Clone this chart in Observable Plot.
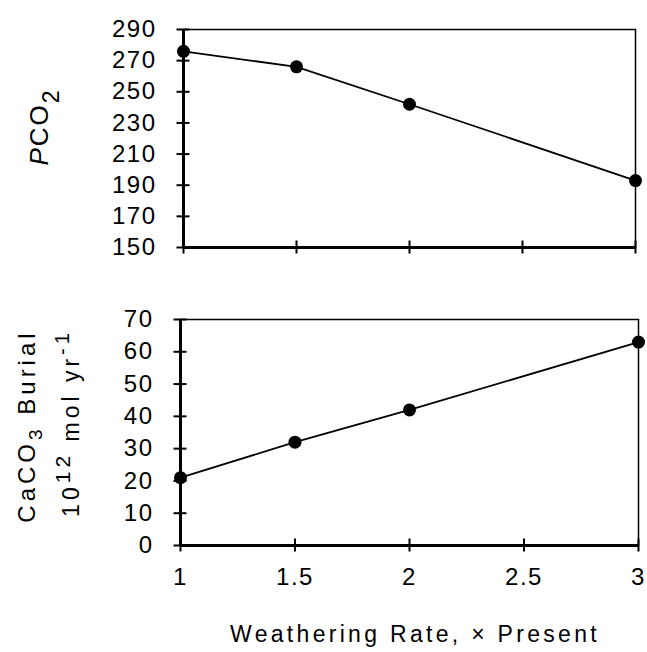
<!DOCTYPE html>
<html><head><meta charset="utf-8">
<script src="https://cdn.jsdelivr.net/npm/d3@7"></script>
<script src="https://cdn.jsdelivr.net/npm/@observablehq/plot@0.6"></script>
<style>
body{margin:0;background:#fff;}
#chart{width:647px;height:652px;}
#chart svg{display:block;}
#chart svg g[aria-label$="tick label"] text{letter-spacing:1.5px;}
</style></head><body><div id="chart"></div>
<script>
const weathering = [1, 1.5, 2, 3];
const pco2 = [276, 266, 242, 193];
const burial = [21, 32, 42, 63];
const xTicks = [1, 1.5, 2, 2.5, 3];
const pco2Ticks = [150, 170, 190, 210, 230, 250, 270, 290];
const burialTicks = [0, 10, 20, 30, 40, 50, 60, 70];
const xLabel = "Weathering Rate, \u00d7 Present";

const font = "'Liberation Sans', Arial, Helvetica, sans-serif";
const topData = weathering.map((w, i) => ({w, v: pco2[i]}));
const botData = weathering.map((w, i) => ({w, v: burial[i]}));

function panel(data, yTicks, yDomain, opts, showX) {
  return Plot.plot({
    width: 647, height: opts.height,
    marginTop: opts.mt, marginBottom: opts.mb, marginLeft: opts.ml, marginRight: opts.mr,
    style: {fontFamily: font, fontSize: "24px", color: "black", background: "white", overflow: "visible"},
    x: {domain: [1, 3]},
    y: {domain: yDomain},
    marks: [
      Plot.frame({stroke: "black", strokeWidth: 1.5}),
      Plot.ruleX([1], {stroke: "black", strokeWidth: 3}),
      Plot.ruleY([yDomain[0]], {stroke: "black", strokeWidth: 3}),
      Plot.axisY(yTicks, {tickSize: 13, dx: 6.5, fill: "none", label: null, strokeWidth: 2}),
      Plot.axisY(yTicks, {tickSize: 0, tickPadding: 27, label: null, fontSize: 24, tickFormat: d => String(d)}),
      Plot.axisX(xTicks, {tickSize: 13, dy: -6.5, fill: "none", label: null, strokeWidth: 2}),
      showX ? Plot.axisX(xTicks, {tickSize: 0, tickPadding: 22, label: null, fontSize: 24, tickFormat: d => String(d)}) : null,
      Plot.line(data, {x: "w", y: "v", stroke: "black", strokeWidth: 1.8}),
      Plot.dot(data, {x: "w", y: "v", r: 6.5, fill: "black"})
    ]
  });
}

const topSvg = panel(topData, pco2Ticks, [150, 290], {height: 270, mt: 29, mb: 23, ml: 183, mr: 12}, false);
const botSvg = panel(botData, burialTicks, [0, 70], {height: 382, mt: 49, mb: 107, ml: 180, mr: 9}, true);

// Y label, top panel
const t1 = d3.select(topSvg).append("text")
  .attr("transform", "translate(48,127) rotate(-90)")
  .attr("text-anchor", "middle").attr("fill", "black")
  .style("font-family", font).style("font-size", "26px").style("letter-spacing", "2px");
t1.append("tspan").attr("font-style", "italic").text("P");
t1.append("tspan").text("CO");
t1.append("tspan").attr("dy", 11).style("font-size", "23px").text("2");

// Y label, bottom panel
const l1 = d3.select(botSvg).append("text")
  .attr("transform", "translate(35,156) rotate(-90)")
  .attr("text-anchor", "middle").attr("fill", "black")
  .style("font-family", font).style("font-size", "24px").style("letter-spacing", "4px");
l1.append("tspan").text("CaCO");
l1.append("tspan").attr("dy", 7).style("font-size", "19px").text("3");
l1.append("tspan").attr("dy", -7).text(" Burial");

const l2 = d3.select(botSvg).append("text")
  .attr("transform", "translate(79,153) rotate(-90)")
  .attr("text-anchor", "middle").attr("fill", "black")
  .style("font-family", font).style("font-size", "23px").style("letter-spacing", "4px");
l2.append("tspan").text("10");
l2.append("tspan").attr("dy", -9).style("font-size", "21px").text("12");
l2.append("tspan").attr("dy", 9).text(" mol yr");
l2.append("tspan").attr("dy", -10).style("font-size", "20px").text("-1");

// X label
d3.select(botSvg).append("text")
  .attr("x", 415).attr("y", 372)
  .attr("text-anchor", "middle").attr("fill", "black")
  .style("font-family", font).style("font-size", "23px").style("letter-spacing", "3.3px")
  .text(xLabel);

const chart = document.getElementById("chart");
chart.appendChild(topSvg);
chart.appendChild(botSvg);
</script>
</body></html>
